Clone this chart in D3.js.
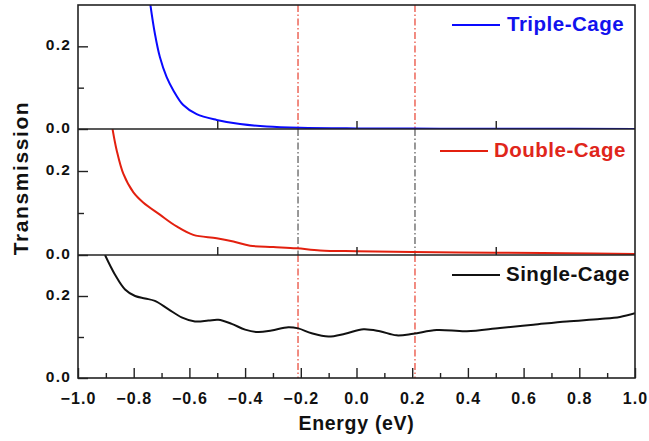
<!DOCTYPE html>
<html>
<head>
<meta charset="utf-8">
<script src="https://cdn.jsdelivr.net/npm/d3@7"></script>
<style>
  html, body { margin: 0; padding: 0; background: #fff; }
  svg text { font-family: Arial, "Liberation Sans", Helvetica, sans-serif; font-weight: bold; }
</style>
</head>
<body>
<svg id="chart" width="649" height="441"></svg>
<script>
// ---------------- data ----------------
const seriesNames = ["Triple-Cage", "Double-Cage", "Single-Cage"];

const tripleEnergy = [-0.740, -0.724, -0.706, -0.682, -0.658, -0.622, -0.574, -0.502, -0.418, -0.322, -0.203, 0.0, 0.3, 0.6, 1.0];
const tripleTrans  = [0.300, 0.231, 0.174, 0.126, 0.094, 0.058, 0.036, 0.022, 0.012, 0.006, 0.003, 0.0015, 0.0008, 0.0005, 0.0003];

const doubleEnergy = [-0.876, -0.861, -0.837, -0.801, -0.766, -0.706, -0.646, -0.586, -0.502, -0.442, -0.382, -0.299, -0.215, -0.131, 0.0, 0.2, 0.5, 0.75, 1.0];
const doubleTrans  = [0.300, 0.249, 0.193, 0.149, 0.125, 0.096, 0.068, 0.048, 0.040, 0.032, 0.022, 0.019, 0.016, 0.011, 0.009, 0.007, 0.0056, 0.004, 0.0024];

const singleEnergy = [-0.903, -0.867, -0.831, -0.795, -0.759, -0.724, -0.676, -0.628, -0.580, -0.532, -0.496, -0.448, -0.400, -0.353, -0.305, -0.245, -0.209, -0.161, -0.101, -0.041, 0.025, 0.084, 0.144, 0.204, 0.288, 0.396, 0.515, 0.635, 0.755, 0.874, 0.946, 1.0];
const singleTrans  = [0.300, 0.252, 0.216, 0.200, 0.194, 0.188, 0.168, 0.148, 0.138, 0.140, 0.142, 0.132, 0.118, 0.112, 0.116, 0.124, 0.121, 0.109, 0.101, 0.108, 0.119, 0.114, 0.104, 0.108, 0.117, 0.114, 0.122, 0.130, 0.138, 0.144, 0.149, 0.158];

const markerEnergies = [-0.21, 0.21];
const xMajorTicks = [-1.0, -0.8, -0.6, -0.4, -0.2, 0.0, 0.2, 0.4, 0.6, 0.8, 1.0];
const xMinorTicks = [-0.9, -0.7, -0.5, -0.3, -0.1, 0.1, 0.3, 0.5, 0.7, 0.9];
const xUpperTicks = [-0.5, 0.0, 0.5];
const yMajorTicks = [0.0, 0.2];
const yMinorTicks = [0.1];
const yDomain = [0, 0.3];
const xDomain = [-1, 1];

// ---------------- layout ----------------
const svg = d3.select("#chart");
const left = 78, right = 635;
const bounds = [5, 129, 255, 378];           // panel edges top->bottom
const lineColors = ["#0a0aff", "#e3200f", "#111111"];
const textColors = ["#1212ee", "#e0261b", "#111111"];
const markerColors = ["#e8402f", "#555555", "#e8402f"];
const legendPos = [  // [line x0, line x1, text x, baseline y]
  [452, 500, 507, 31],
  [440, 488, 494, 157],
  [452, 500, 506, 281]
];

const x = d3.scaleLinear().domain(xDomain).range([left, right]);
const fmt = d3.format(".1f");

const datasets = [
  tripleEnergy.map((e, i) => [e, tripleTrans[i]]),
  doubleEnergy.map((e, i) => [e, doubleTrans[i]]),
  singleEnergy.map((e, i) => [e, singleTrans[i]])
];

const defs = svg.append("defs");

datasets.forEach((data, p) => {
  const top = bounds[p], bottom = bounds[p + 1];
  const y = d3.scaleLinear().domain(yDomain).range([bottom, top]);
  const g = svg.append("g");

  defs.append("clipPath").attr("id", "clip" + p)
    .append("rect").attr("x", left).attr("y", top).attr("width", right - left).attr("height", bottom - top);

  // dash-dot markers
  g.selectAll("line.marker").data(markerEnergies).join("line")
    .attr("class", "marker")
    .attr("x1", d => x(d)).attr("x2", d => x(d))
    .attr("y1", top).attr("y2", bottom)
    .attr("stroke", markerColors[p]).attr("stroke-width", 1.2)
    .attr("stroke-dasharray", "7,2.5,1.5,2.5");

  // curve
  const line = d3.line().x(d => x(d[0])).y(d => y(d[1])).curve(d3.curveCatmullRom.alpha(0.5));
  g.append("path").datum(data)
    .attr("clip-path", "url(#clip" + p + ")")
    .attr("fill", "none").attr("stroke", lineColors[p]).attr("stroke-width", 2)
    .attr("stroke-linejoin", "round")
    .attr("d", line);

  // y axis major
  const yAx = g.append("g").attr("transform", `translate(${left},0)`)
    .call(d3.axisLeft(y).tickValues(yMajorTicks).tickSize(-10).tickPadding(18).tickFormat(fmt));
  yAx.select(".domain").remove();
  yAx.selectAll(".tick line").attr("stroke", "#222").attr("stroke-width", 1.4);
  yAx.selectAll(".tick text")
    .attr("font-size", 15.5).attr("letter-spacing", 1.2).attr("fill", "#111")
    .attr("x", -7).attr("dy", "0.2em");

  const yMin = g.append("g").attr("transform", `translate(${left},0)`)
    .call(d3.axisLeft(y).tickValues(yMinorTicks).tickSize(-6).tickFormat(""));
  yMin.select(".domain").remove();
  yMin.selectAll(".tick line").attr("stroke", "#222").attr("stroke-width", 1.4);

  // x ticks
  if (p < 2) {
    const xa = g.append("g").attr("transform", `translate(0,${bottom})`)
      .call(d3.axisBottom(x).tickValues(xUpperTicks).tickSize(-8).tickFormat(""));
    xa.select(".domain").remove();
    xa.selectAll(".tick line").attr("stroke", "#222").attr("stroke-width", 1.4);
  } else {
    const xa = g.append("g").attr("transform", `translate(0,${bottom})`)
      .call(d3.axisBottom(x).tickValues(xMajorTicks).tickSize(-10).tickFormat(fmt));
    xa.select(".domain").remove();
    xa.selectAll(".tick line").attr("stroke", "#222").attr("stroke-width", 1.4);
    xa.selectAll(".tick text")
      .attr("font-size", 16).attr("letter-spacing", 1.1).attr("fill", "#111")
      .attr("y", 26).attr("dy", 0);
    const xm = g.append("g").attr("transform", `translate(0,${bottom})`)
      .call(d3.axisBottom(x).tickValues(xMinorTicks).tickSize(-5).tickFormat(""));
    xm.select(".domain").remove();
    xm.selectAll(".tick line").attr("stroke", "#222").attr("stroke-width", 1.4);
  }

  // legend
  const lp = legendPos[p];
  g.append("line").attr("x1", lp[0]).attr("x2", lp[1]).attr("y1", lp[3] - 6).attr("y2", lp[3] - 6)
    .attr("stroke", lineColors[p]).attr("stroke-width", 2);
  g.append("text").attr("x", lp[2]).attr("y", lp[3])
    .attr("font-size", 20.5).attr("letter-spacing", 0.5).attr("fill", textColors[p])
    .text(seriesNames[p]);
});

// frame and separators
svg.append("rect").attr("x", left).attr("y", bounds[0])
  .attr("width", right - left).attr("height", bounds[3] - bounds[0])
  .attr("fill", "none").attr("stroke", "#222").attr("stroke-width", 1.6);
[bounds[1], bounds[2]].forEach(b => {
  svg.append("line").attr("x1", left).attr("x2", right).attr("y1", b).attr("y2", b)
    .attr("stroke", "#222").attr("stroke-width", 1.6);
});

// axis titles
svg.append("text").attr("x", (left + right) / 2).attr("y", 430)
  .attr("text-anchor", "middle").attr("font-size", 19.5).attr("letter-spacing", 0.7).attr("fill", "#111")
  .text("Energy (eV)");
svg.append("text")
  .attr("transform", "translate(28,178) rotate(-90)")
  .attr("text-anchor", "middle").attr("font-size", 21).attr("letter-spacing", 1.6).attr("fill", "#111")
  .text("Transmission");
</script>
</body>
</html>
